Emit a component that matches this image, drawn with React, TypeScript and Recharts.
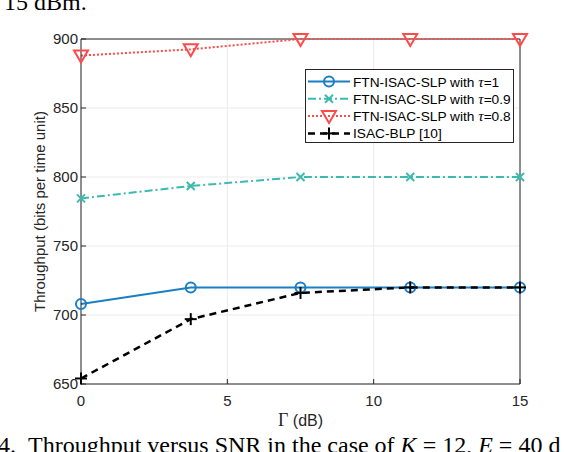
import React from 'react';
import {
  LineChart,
  Line,
  XAxis,
  YAxis,
  CartesianGrid,
  Legend,
  ReferenceLine,
} from 'recharts';

const gammaDb = [0, 3.75, 7.5, 11.25, 15];
const tau1 = [708, 720, 720, 720, 720];
const tau09 = [784.5, 793.5, 800, 800, 800];
const tau08 = [888, 892.5, 900, 900, 900];
const isacBlp = [654, 697, 716, 720, 720];

const xTicks = [0, 5, 10, 15];
const yTicks = [650, 700, 750, 800, 850, 900];

const seriesNames = [
  'FTN-ISAC-SLP with τ=1',
  'FTN-ISAC-SLP with τ=0.9',
  'FTN-ISAC-SLP with τ=0.8',
  'ISAC-BLP [10]',
];

const data = gammaDb.map((g, i) => ({
  g,
  tau1: tau1[i],
  tau09: tau09[i],
  tau08: tau08[i],
  blp: isacBlp[i],
}));

const SANS = '"Liberation Sans", Arial, Helvetica, sans-serif';
const SERIF = '"Liberation Serif", "Times New Roman", serif';
const AXIS = '#262626';

type MarkerKind = 'circle' | 'x' | 'tri' | 'plus';

const Marker = ({ kind, cx, cy, color }: { kind: MarkerKind; cx: number; cy: number; color: string }) => {
  if (kind === 'circle')
    return <circle cx={cx} cy={cy} r={5} fill="none" stroke={color} strokeWidth={2} />;
  if (kind === 'x')
    return (
      <g stroke={color} strokeWidth={2}>
        <line x1={cx - 4} y1={cy - 4} x2={cx + 4} y2={cy + 4} />
        <line x1={cx - 4} y1={cy + 4} x2={cx + 4} y2={cy - 4} />
      </g>
    );
  if (kind === 'tri')
    return (
      <polygon
        points={`${cx - 7},${cy - 5} ${cx + 7},${cy - 5} ${cx},${cy + 7}`}
        fill="none"
        stroke={color}
        strokeWidth={2}
      />
    );
  return (
    <g stroke={color} strokeWidth={2}>
      <line x1={cx - 6} y1={cy} x2={cx + 6} y2={cy} />
      <line x1={cx} y1={cy - 6} x2={cx} y2={cy + 6} />
    </g>
  );
};

const styles = [
  { key: 'tau1', color: '#1a7fc4', dash: undefined, marker: 'circle' as MarkerKind, width: 2 },
  { key: 'tau09', color: '#3dbaae', dash: '8 3 2 3', marker: 'x' as MarkerKind, width: 2 },
  { key: 'tau08', color: '#ff4a4a', dash: '2 2', marker: 'tri' as MarkerKind, width: 2 },
  { key: 'blp', color: '#000000', dash: '7 5', marker: 'plus' as MarkerKind, width: 2.5 },
];

const XTick = (p: any) => (
  <text x={p.x} y={p.y} dy="0.71em" textAnchor="middle" fontSize={15} fontFamily={SANS} fill={AXIS}>
    {p.payload.value}
  </text>
);

const YTick = (p: any) => (
  <text x={p.x} y={p.y} dy="0.355em" textAnchor="end" fontSize={15} fontFamily={SANS} fill={AXIS}>
    {p.payload.value}
  </text>
);

const NoLabel = () => <g />;

const LegendBox = () => (
  <svg width={209} height={74} style={{ display: 'block' }}>
    <rect x={0.5} y={0.5} width={208} height={73} fill="#fff" stroke={AXIS} strokeWidth={1} />
    {styles.map((s, i) => {
      const cy = 12.5 + i * 17.3;
      const name = seriesNames[i];
      const tauIdx = name.indexOf('τ');
      return (
        <g key={s.key}>
          <line x1={3} y1={cy} x2={45} y2={cy} stroke={s.color} strokeWidth={s.width} strokeDasharray={s.dash} />
          <Marker kind={s.marker} cx={24} cy={cy} color={s.color} />
          <text x={48} y={cy + 5} fontSize={13.7} fontFamily={SANS} fill="#000">
            {tauIdx < 0 ? (
              name
            ) : (
              <>
                {name.slice(0, tauIdx)}
                <tspan fontFamily={SERIF} fontStyle="italic" fontSize={15}>τ</tspan>
                {name.slice(tauIdx + 1)}
              </>
            )}
          </text>
        </g>
      );
    })}
  </svg>
);

export default function App() {
  return (
    <div style={{ position: 'absolute', left: 0, top: 0, width: 564, height: 452, background: '#fff', overflow: 'hidden' }}>
      <LineChart width={564} height={452} data={data} margin={{ top: 39, right: 44, bottom: 38, left: 41 }}>
        <CartesianGrid stroke="#ebebeb" strokeWidth={1} />
        <XAxis
          dataKey="g"
          type="number"
          domain={[0, 15]}
          ticks={xTicks}
          height={30}
          stroke={AXIS}
          tickSize={-5}
          tickMargin={16}
          tick={<XTick />}
        />
        <XAxis
          xAxisId="top"
          orientation="top"
          type="number"
          domain={[0, 15]}
          ticks={xTicks}
          height={0}
          stroke={AXIS}
          tickSize={-5}
          tick={<NoLabel />}
        />
        <YAxis
          type="number"
          domain={[650, 900]}
          ticks={yTicks}
          width={40}
          stroke={AXIS}
          tickSize={-5}
          tickMargin={8}
          tick={<YTick />}
        />
        <YAxis
          yAxisId="right"
          orientation="right"
          type="number"
          domain={[650, 900]}
          ticks={yTicks}
          width={0}
          stroke={AXIS}
          tickSize={-5}
          tick={<NoLabel />}
        />
        <ReferenceLine y={900} stroke={AXIS} strokeWidth={1} />
        <ReferenceLine x={15} stroke={AXIS} strokeWidth={1} />
        {styles.map((s, i) => (
          <Line
            key={s.key}
            dataKey={s.key}
            name={seriesNames[i]}
            type="linear"
            stroke={s.color}
            strokeWidth={s.width}
            strokeDasharray={s.dash}
            isAnimationActive={false}
            dot={(p: any) => <Marker key={`${s.key}-${p.index}`} kind={s.marker} cx={p.cx} cy={p.cy} color={s.color} />}
            activeDot={false}
          />
        ))}
        <Legend
          layout="vertical"
          align="center"
          verticalAlign="middle"
          content={() => <LegendBox />}
          wrapperStyle={{ left: 305, top: 69, width: 209, height: 74 }}
        />
      </LineChart>
      <svg width={564} height={452} style={{ position: 'absolute', left: 0, top: 0, pointerEvents: 'none' }}>
        <text x={4} y={10} fontSize={24} fontFamily={SERIF} fill="#000">15 dBm.</text>
        <text
          transform="translate(45,211.5) rotate(-90)"
          textAnchor="middle"
          fontSize={15}
          fontFamily={SANS}
          fill={AXIS}
        >
          Throughput (bits per time unit)
        </text>
        <text x={300.5} y={426} textAnchor="middle" fontSize={16} fill={AXIS}>
          <tspan fontFamily={SERIF} fontSize={18}>Γ</tspan>
          <tspan fontFamily={SANS}> (dB)</tspan>
        </text>
        <text x={-2} y={453} fontSize={24} fontFamily={SERIF} fill="#000">
          4.{'\u00a0\u00a0'}Throughput versus SNR in the case of <tspan fontStyle="italic">K</tspan> = 12, <tspan fontStyle="italic">E</tspan> = 40 d
        </text>
      </svg>
    </div>
  );
}
